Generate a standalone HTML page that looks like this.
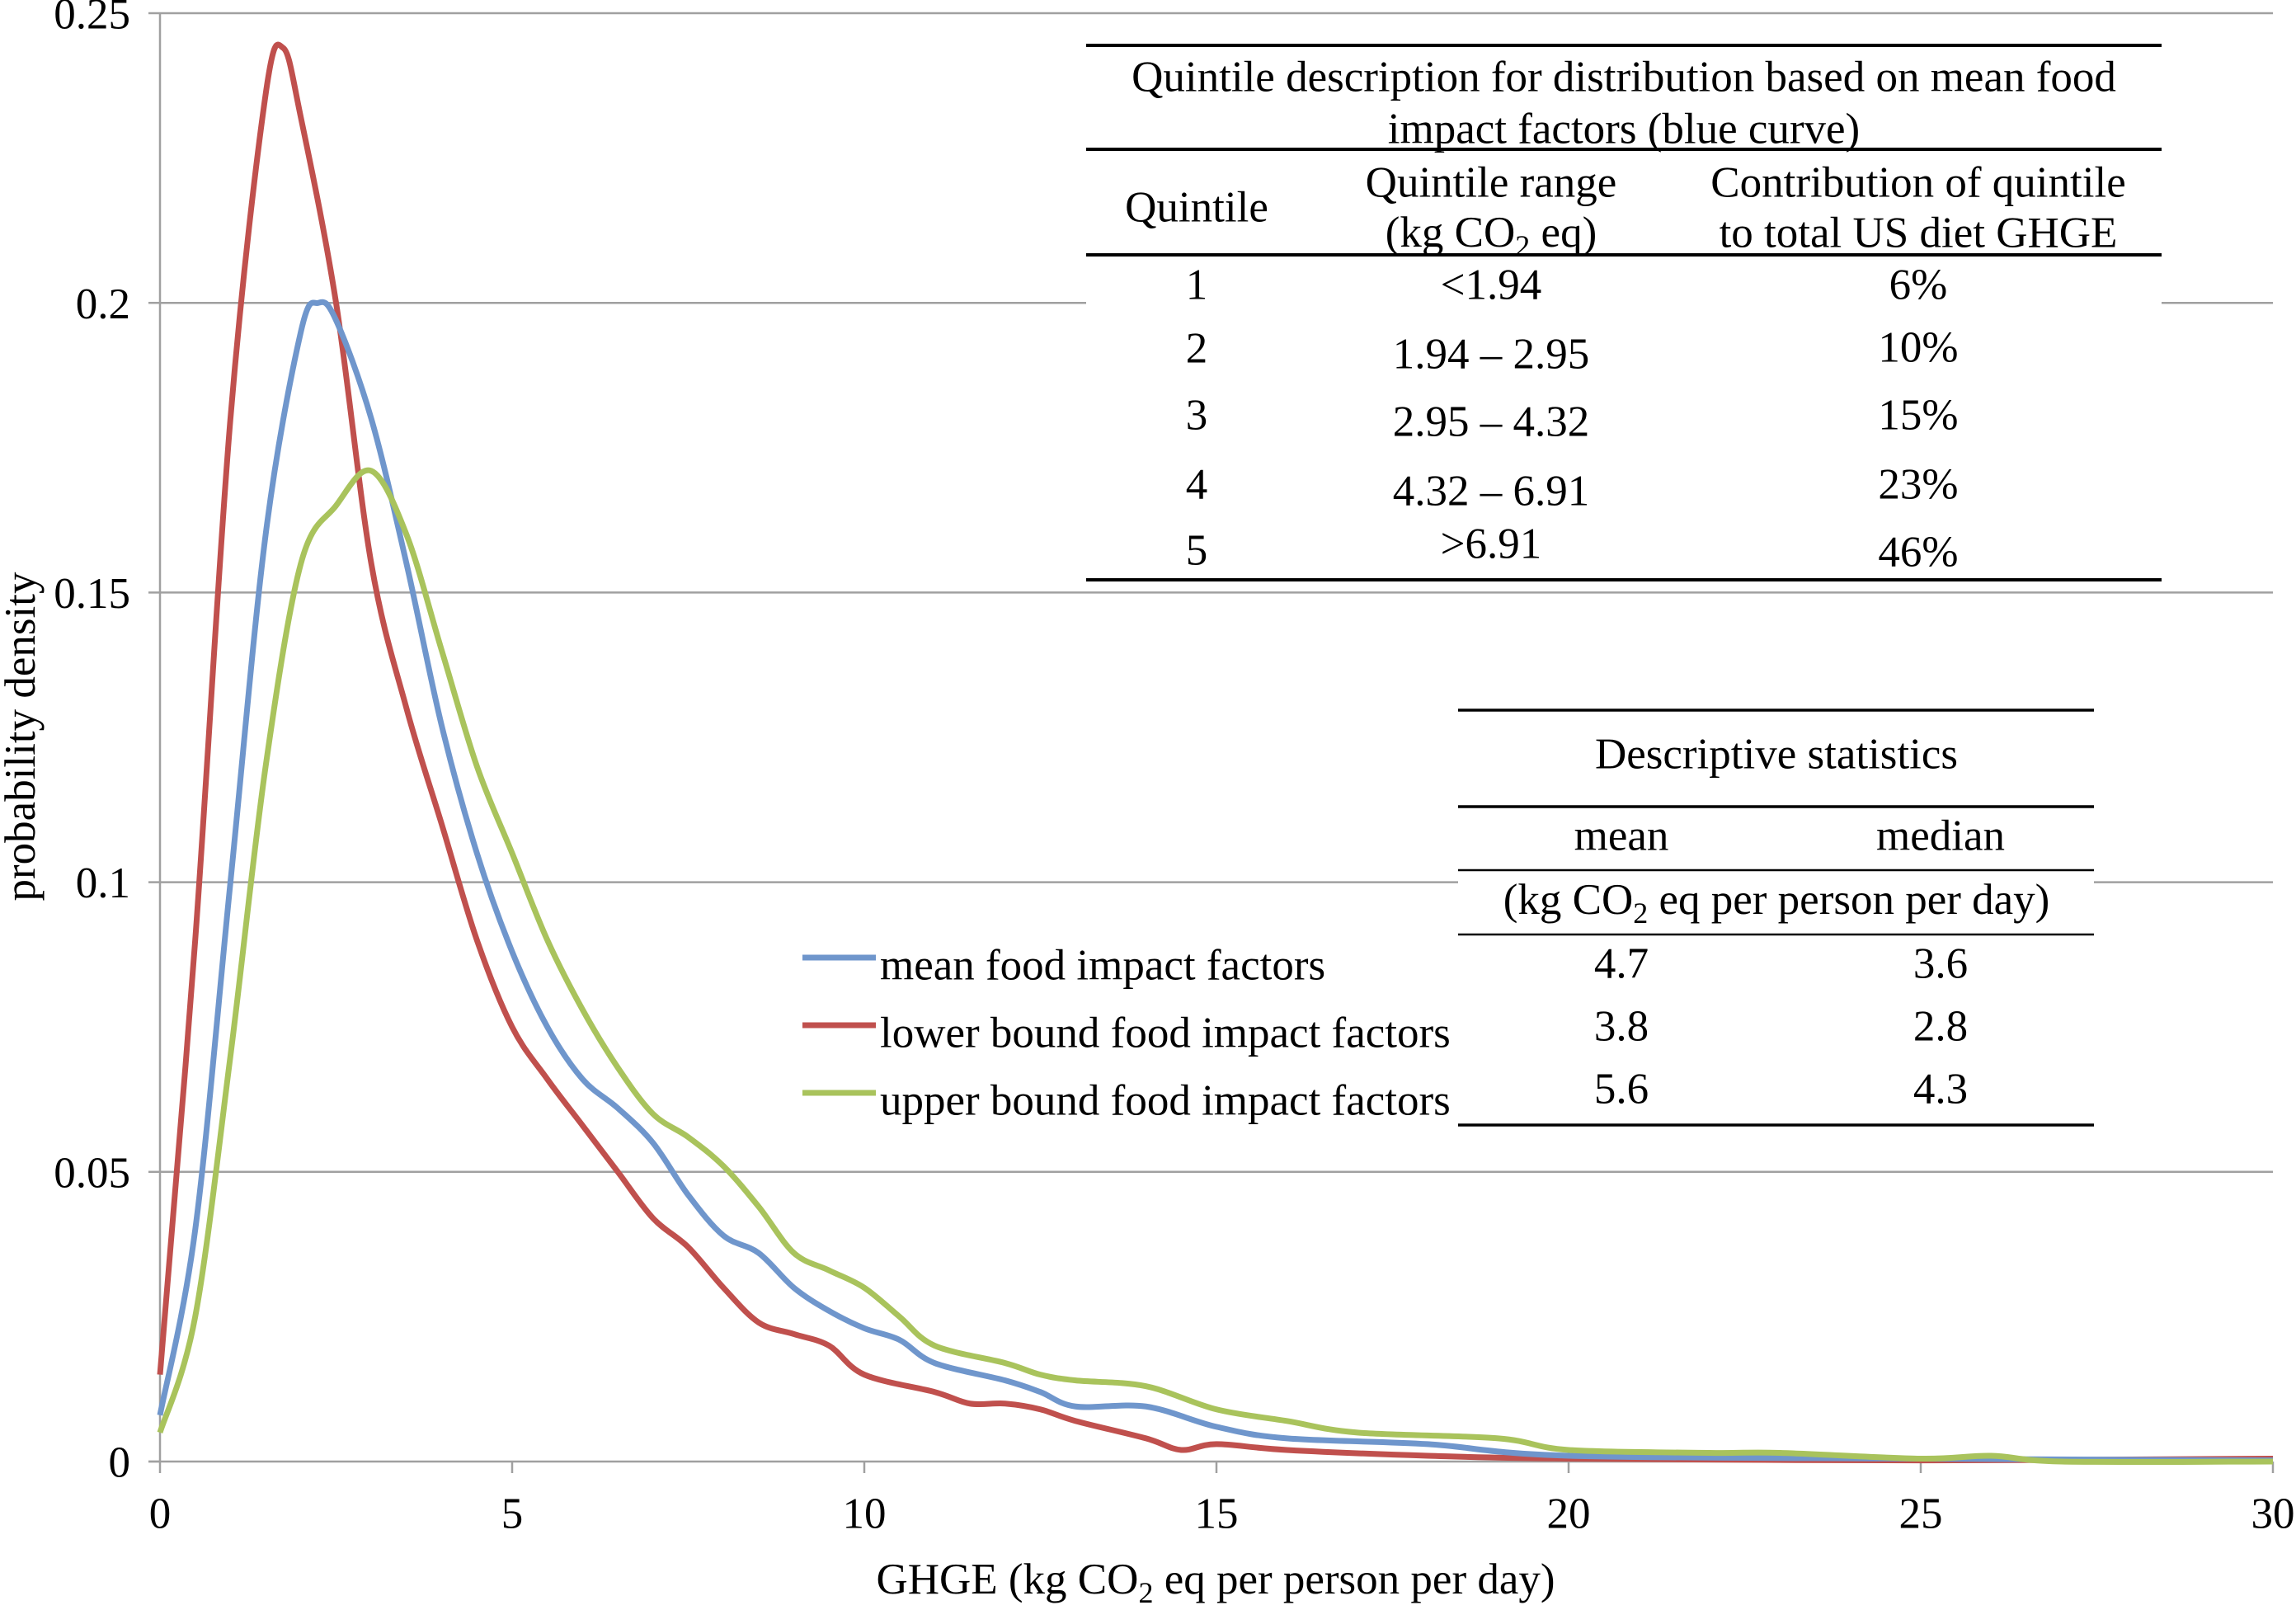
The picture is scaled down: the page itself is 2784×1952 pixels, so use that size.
<!DOCTYPE html>
<html><head><meta charset="utf-8"><style>
html,body{margin:0;padding:0;background:#fff;}
svg{display:block;font-family:"Liberation Serif",serif;}
</style></head><body>
<svg id="chart" width="2784" height="1952" viewBox="0 0 2784 1952">
<g id="grid"></g>
<g id="axes"></g>
<g id="series"></g>
<g id="tables"></g>
<g id="legend"></g>
</svg>
<script>
const xTicks = [0,5,10,15,20,25,30];
const yTicks = [0,0.05,0.1,0.15,0.2,0.25];
const yTickLabels = ["0","0.05","0.1","0.15","0.2","0.25"];
const seriesNames = ["mean food impact factors","lower bound food impact factors","upper bound food impact factors"];
const seriesColors = ["#6f96cc","#c0504d","#a9c35c"];
const blueX = [0,0.5,1,1.5,2,2.25,2.5,3,3.5,4,4.5,5,5.5,6,6.5,7,7.5,8,8.5,9,9.5,10,10.5,11,12,12.5,13,14,15,16,18,20,25,30];
const blueY = [0.008,0.04,0.1,0.16,0.195,0.2,0.197,0.18,0.155,0.127,0.105,0.088,0.075,0.066,0.061,0.055,0.046,0.039,0.036,0.03,0.026,0.023,0.021,0.017,0.014,0.012,0.0095,0.0095,0.006,0.004,0.003,0.001,0.0005,0.0002];
const redX = [0,0.5,1,1.5,1.75,2,2.5,3,3.5,4,4.5,5,5.5,6,6.5,7,7.5,8,8.5,9,9.5,10,11,11.5,12,12.5,13,14,14.5,15,16,18,20,25,30];
const redY = [0.015,0.09,0.18,0.236,0.244,0.232,0.2,0.155,0.13,0.11,0.09,0.075,0.066,0.058,0.05,0.042,0.037,0.03,0.024,0.022,0.02,0.015,0.012,0.01,0.01,0.009,0.007,0.004,0.002,0.003,0.002,0.001,0.0005,0.0002,0.0005];
const greenX = [0,0.5,1,1.5,2,2.5,3,3.5,4,4.5,5,5.5,6,6.5,7,7.5,8,8.5,9,9.5,10,10.5,11,12,12.5,13,14,15,16,17,19,20,22,23,25,26,27,30];
const greenY = [0.005,0.025,0.07,0.12,0.155,0.165,0.171,0.16,0.14,0.12,0.105,0.09,0.078,0.068,0.06,0.056,0.051,0.044,0.036,0.033,0.03,0.025,0.02,0.017,0.015,0.014,0.013,0.009,0.007,0.005,0.004,0.002,0.0015,0.0015,0.0005,0.001,0,0];

const NS="http://www.w3.org/2000/svg";
const X0=194,X1=2756,Y0=1772,Y1=16;
const FS=53, SUB=36;
function xs(v){return X0+(v-0)/(30-0)*(X1-X0);}
function ys(v){return Y0-(v-0)/(0.25-0)*(Y0-Y1);}
function mk(tag,attrs,parent){const e=document.createElementNS(NS,tag);for(const k in attrs)e.setAttribute(k,attrs[k]);parent.appendChild(e);return e;}
function txt(s,x,y,anchor,parent,size){const t=mk('text',{x:x,y:y+ (size||FS)*0.35,'text-anchor':anchor||'middle','font-size':size||FS,fill:'#000'},parent);t.textContent=s;return t;}

const grid=document.getElementById('grid'),axes=document.getElementById('axes'),ser=document.getElementById('series'),tab=document.getElementById('tables'),leg=document.getElementById('legend');

yTicks.forEach((v,i)=>{
  if(v>0){const l=mk('line',{x1:X0,x2:X1,y1:ys(v),y2:ys(v),stroke:'#a0a0a0','stroke-width':2.5},grid);
  
  }
  mk('line',{x1:X0-14,x2:X0,y1:ys(v),y2:ys(v),stroke:'#a0a0a0','stroke-width':2.5},axes);
  const t=txt(yTickLabels[i],158,ys(v),'end',axes,FS);
  
  
});
mk('line',{x1:X0,x2:X0,y1:Y1,y2:Y0,stroke:'#a0a0a0','stroke-width':2.5},axes);
mk('line',{x1:X0-14,x2:X1,y1:Y0,y2:Y0,stroke:'#a0a0a0','stroke-width':2.5},axes);
xTicks.forEach(v=>{
  mk('line',{x1:xs(v),x2:xs(v),y1:Y0,y2:Y0+14,stroke:'#a0a0a0','stroke-width':2.5},axes);
  const t=txt(String(v),xs(v),1834,'middle',axes,FS);
  
  
});
let xt=mk('text',{x:1474,y:1932,'text-anchor':'middle','font-size':FS},axes);
xt.innerHTML='GHGE (kg CO<tspan font-size="'+SUB+'" dy="11">2</tspan><tspan dy="-11"> eq per person per day)</tspan>';


let yt=mk('text',{x:0,y:0,'text-anchor':'middle','font-size':FS,transform:'translate(42,893) rotate(-90)'},axes);
yt.textContent='probability density';



function pathFor(X,Y){
  const p=X.map((x,i)=>[xs(x),ys(Y[i])]);
  let d='M'+p[0][0]+','+p[0][1];
  for(let i=0;i<p.length-1;i++){
    const p0=p[i-1]||p[i],p1=p[i],p2=p[i+1],p3=p[i+2]||p2;
    const c1=[p1[0]+(p2[0]-p0[0])/6,p1[1]+(p2[1]-p0[1])/6];
    const c2=[p2[0]-(p3[0]-p1[0])/6,p2[1]-(p3[1]-p1[1])/6];
    d+=' C'+c1+' '+c2+' '+p2;
  }
  return d;
}
const S=[[blueX,blueY],[redX,redY],[greenX,greenY]];
const snames=['series-mean','series-lower-bound','series-upper-bound'];
[1,0,2].forEach(i=>{
  const e=mk('path',{d:pathFor(S[i][0],S[i][1]),fill:'none',stroke:seriesColors[i],'stroke-width':7,'stroke-linejoin':'round'},ser);
  
  
});

const legY=[1169,1251,1333];
seriesNames.forEach((n,i)=>{
  mk('line',{x1:973,x2:1062,y1:legY[i]-8,y2:legY[i]-8,stroke:seriesColors[i],'stroke-width':7},leg);
  const t=txt(n,1067,legY[i],'start',leg,FS);
  
  
});

const t1=mk('g',{},tab);


mk('rect',{x:1317,y:55,width:1304,height:648,fill:'#fff'},t1);
[55,181,309,703].forEach(y=>mk('line',{x1:1317,x2:2621,y1:y,y2:y,stroke:'#000','stroke-width':4},t1));
txt('Quintile description for distribution based on mean food',1969,92,'middle',t1,FS);
txt('impact factors (blue curve)',1969,155,'middle',t1,FS);
txt('Quintile',1451,250,'middle',t1,FS);
txt('Quintile range',1808,220,'middle',t1,FS);
let qr=mk('text',{x:1808,y:281+18,'text-anchor':'middle','font-size':FS},t1);
qr.innerHTML='(kg CO<tspan font-size="'+SUB+'" dy="11">2</tspan><tspan dy="-11"> eq)</tspan>';
txt('Contribution of quintile',2326,220,'middle',t1,FS);
txt('to total US diet GHGE',2326,281,'middle',t1,FS);
const qN=['1','2','3','4','5'],qR=['<1.94','1.94 – 2.95','2.95 – 4.32','4.32 – 6.91','>6.91'],qC=['6%','10%','15%','23%','46%'];
const rowY=[344,421,502,586,666],rangeY=[344,428,510,594,658],contY=[344,420,502,586,668];
qN.forEach((q,i)=>{txt(q,1451,rowY[i],'middle',t1,FS);txt(qR[i],1808,rangeY[i],'middle',t1,FS);txt(qC[i],2326,contY[i],'middle',t1,FS);});

const t2=mk('g',{},tab);


mk('rect',{x:1768,y:861,width:771,height:503,fill:'#fff'},t2);
[861,978,1055,1133,1364].forEach((y,i)=>mk('line',{x1:1768,x2:2539,y1:y,y2:y,stroke:'#000','stroke-width':(i==2||i==3)?2.5:3.5},t2));
txt('Descriptive statistics',2154,913,'middle',t2,FS);
txt('mean',1966,1012,'middle',t2,FS);
txt('median',2353,1012,'middle',t2,FS);
let un=mk('text',{x:2154,y:1090+18,'text-anchor':'middle','font-size':FS},t2);
un.innerHTML='(kg CO<tspan font-size="'+SUB+'" dy="11">2</tspan><tspan dy="-11"> eq per person per day)</tspan>';
const dMean=['4.7','3.8','5.6'],dMed=['3.6','2.8','4.3'],dY=[1167,1243,1319];
dMean.forEach((m,i)=>{txt(m,1966,dY[i],'middle',t2,FS);txt(dMed[i],2353,dY[i],'middle',t2,FS);});
</script>
</body></html>
